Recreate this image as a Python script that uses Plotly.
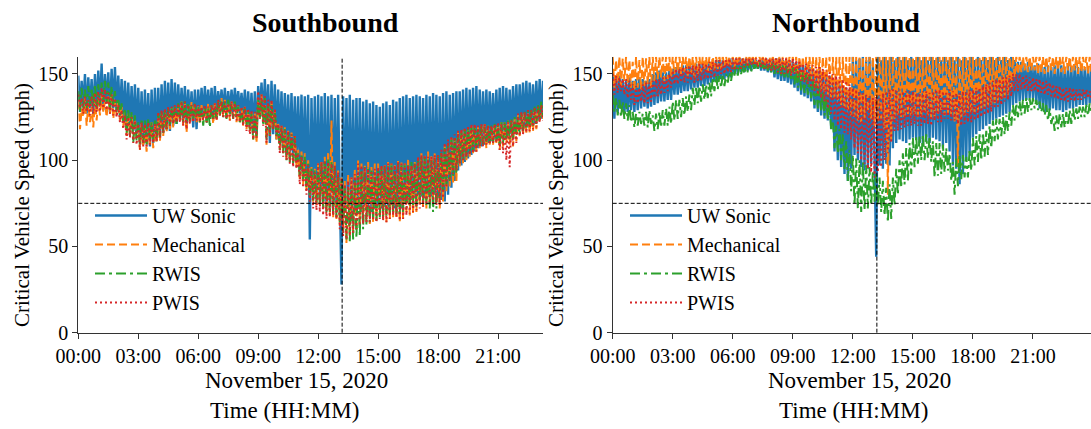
import pandas as pd
import plotly.graph_objects as go

# ---------------------------------------------------------------------------
# Critical vehicle speed (mph), 5-minute samples starting 2020-11-15 00:00.
# Each row of values is one hour (twelve samples).
# ---------------------------------------------------------------------------
DAY = "2020-11-15"
SERIES_NAMES = ["UW Sonic", "Mechanical", "RWIS", "PWIS"]
THRESHOLD_MPH = 75
EVENT_TIME = "2020-11-15 13:12"

south_uw_sonic = [
    149, 128, 146, 131, 150, 127, 148, 130, 147, 126, 150, 129,
    152, 131, 156, 129, 150, 133, 151, 128, 153, 130, 154, 129,
    149, 126, 147, 122, 146, 120, 145, 118, 143, 117, 144, 115,
    142, 112, 140, 109, 141, 111, 139, 108, 141, 110, 142, 111,
    142, 113, 144, 116, 146, 118, 145, 117, 147, 120, 145, 121,
    144, 123, 142, 124, 143, 121, 141, 122, 140, 119, 141, 118,
    141, 124, 142, 125, 143, 126, 141, 125, 142, 124, 143, 126,
    140, 129, 141, 128, 142, 126, 140, 127, 141, 128, 142, 129,
    140, 127, 139, 125, 141, 122, 140, 120, 139, 116, 140, 113,
    143, 127, 145, 124, 147, 122, 144, 110, 146, 115, 144, 112,
    141, 111, 140, 108, 139, 105, 138, 103, 139, 101, 137, 99,
    137, 94, 138, 90, 137, 85, 138, 54, 136, 82, 137, 78,
    138, 78, 137, 76, 139, 74, 137, 73, 138, 72, 136, 71,
    138, 70, 28, 137, 71, 136, 72, 138, 70, 135, 69, 136,
    72, 136, 70, 134, 73, 135, 71, 133, 70, 134, 72, 132,
    74, 131, 72, 133, 73, 134, 71, 132, 74, 135, 72, 134,
    73, 136, 72, 137, 75, 138, 76, 136, 77, 137, 78, 138,
    80, 137, 79, 136, 78, 138, 80, 137, 79, 139, 80, 138,
    78, 137, 77, 139, 76, 140, 80, 138, 84, 139, 88, 140,
    94, 140, 97, 141, 99, 142, 101, 141, 103, 142, 105, 143,
    107, 141, 108, 140, 109, 141, 110, 140, 111, 139, 112, 141,
    112, 142, 113, 143, 112, 142, 114, 141, 115, 143, 116, 144,
    117, 144, 118, 145, 119, 146, 119, 145, 120, 144, 121, 146,
    123, 147, 124, 146,
]
south_mechanical = [
    134, 118, 130, 125, 136, 120, 133, 122, 131, 119, 135, 123,
    136, 126, 138, 128, 134, 125, 137, 127, 139, 124, 134, 126,
    134, 123, 131, 120, 128, 114, 127, 116, 126, 112, 124, 113,
    120, 106, 122, 108, 119, 105, 121, 109, 122, 107, 120, 110,
    125, 111, 127, 114, 128, 116, 129, 118, 130, 119, 131, 121,
    132, 122, 134, 120, 133, 116, 132, 121, 134, 123, 132, 122,
    131, 121, 132, 123, 131, 122, 133, 124, 132, 121, 133, 123,
    134, 126, 136, 125, 135, 124, 133, 123, 134, 125, 133, 122,
    131, 121, 130, 120, 131, 118, 129, 117, 128, 112, 127, 110,
    135, 124, 138, 122, 136, 109, 133, 114, 134, 118, 128, 112,
    122, 106, 120, 104, 119, 101, 117, 100, 116, 98, 114, 96,
    106, 88, 105, 86, 104, 82, 100, 80, 96, 76, 95, 74,
    98, 74, 100, 72, 102, 70, 105, 68, 123, 67, 99, 66,
    94, 62, 90, 58, 88, 52, 92, 56, 90, 58, 95, 60,
    100, 62, 98, 64, 97, 66, 99, 63, 96, 64, 98, 65,
    98, 68, 96, 65, 97, 64, 99, 66, 98, 67, 97, 66,
    100, 64, 99, 66, 98, 70, 101, 68, 97, 69, 99, 70,
    102, 74, 104, 73, 103, 72, 105, 74, 103, 76, 104, 75,
    102, 72, 104, 76, 108, 82, 110, 84, 113, 86, 112, 88,
    116, 96, 117, 98, 118, 100, 119, 102, 120, 104, 119, 105,
    119, 107, 120, 108, 121, 107, 120, 109, 119, 109, 121, 110,
    121, 106, 122, 108, 122, 110, 123, 109, 123, 108, 124, 111,
    126, 114, 127, 115, 128, 116, 127, 116, 128, 117, 129, 118,
    130, 123, 132, 124,
]
south_rwis = [
    140, 128, 142, 130, 141, 129, 143, 132, 142, 131, 144, 130,
    144, 132, 145, 134, 146, 133, 145, 130, 143, 131, 140, 128,
    136, 126, 133, 122, 130, 116, 129, 114, 128, 110, 126, 111,
    122, 108, 124, 110, 123, 109, 124, 111, 122, 112, 123, 113,
    127, 114, 128, 116, 129, 118, 130, 120, 130, 122, 131, 121,
    133, 124, 134, 122, 134, 121, 133, 123, 132, 124, 133, 125,
    131, 122, 130, 120, 131, 121, 130, 119, 132, 124, 131, 123,
    134, 126, 135, 125, 134, 124, 135, 126, 133, 124, 134, 125,
    131, 122, 130, 121, 130, 120, 128, 117, 127, 112, 126, 113,
    135, 124, 136, 120, 136, 112, 133, 115, 133, 118, 128, 114,
    120, 106, 119, 104, 118, 100, 116, 99, 115, 98, 113, 96,
    104, 90, 103, 88, 102, 84, 98, 80, 95, 76, 94, 75,
    96, 74, 98, 72, 100, 70, 101, 69, 99, 68, 97, 67,
    92, 64, 88, 58, 86, 54, 84, 53, 85, 54, 88, 55,
    92, 56, 94, 60, 96, 62, 95, 64, 94, 66, 93, 65,
    95, 66, 96, 67, 96, 68, 97, 69, 97, 70, 96, 69,
    98, 68, 97, 70, 97, 72, 98, 73, 99, 74, 98, 73,
    101, 76, 102, 75, 102, 74, 101, 72, 100, 70, 101, 72,
    103, 78, 105, 82, 108, 86, 110, 88, 112, 90, 113, 92,
    115, 98, 116, 100, 118, 102, 119, 104, 119, 106, 120, 107,
    119, 108, 120, 109, 119, 110, 120, 110, 120, 110, 121, 111,
    121, 108, 122, 110, 122, 112, 123, 112, 124, 112, 125, 114,
    126, 116, 127, 117, 128, 118, 129, 119, 130, 120, 131, 121,
    132, 124, 134, 125,
]
south_pwis = [
    138, 130, 136, 127, 137, 128, 135, 126, 137, 127, 139, 128,
    140, 128, 142, 130, 141, 129, 139, 127, 138, 126, 136, 125,
    132, 122, 129, 118, 126, 112, 125, 113, 125, 110, 123, 109,
    121, 106, 122, 108, 121, 107, 122, 109, 120, 110, 121, 111,
    128, 113, 129, 116, 130, 118, 131, 120, 131, 121, 132, 122,
    133, 122, 134, 120, 134, 118, 132, 121, 132, 122, 133, 123,
    132, 122, 131, 123, 132, 122, 131, 124, 132, 124, 133, 123,
    135, 126, 134, 125, 134, 124, 133, 123, 134, 124, 133, 123,
    132, 122, 131, 120, 131, 117, 130, 115, 129, 112, 128, 113,
    140, 124, 138, 120, 137, 110, 135, 114, 135, 118, 130, 114,
    121, 104, 120, 102, 118, 100, 117, 98, 115, 96, 114, 95,
    104, 86, 102, 84, 100, 80, 97, 76, 94, 72, 93, 71,
    98, 70, 99, 68, 100, 66, 99, 67, 98, 68, 97, 66,
    93, 60, 90, 56, 86, 54, 88, 56, 90, 58, 92, 60,
    98, 62, 97, 63, 96, 64, 95, 64, 94, 65, 95, 64,
    96, 66, 97, 65, 97, 64, 98, 66, 98, 68, 97, 67,
    99, 65, 98, 66, 98, 68, 97, 69, 97, 70, 98, 71,
    102, 72, 103, 73, 103, 74, 102, 75, 102, 75, 103, 74,
    103, 74, 106, 78, 110, 84, 112, 88, 114, 92, 115, 94,
    117, 98, 118, 100, 119, 102, 120, 103, 121, 104, 121, 105,
    120, 108, 121, 108, 121, 109, 120, 109, 120, 110, 121, 110,
    122, 106, 121, 104, 121, 100, 122, 96, 123, 108, 123, 110,
    127, 114, 128, 115, 128, 116, 129, 117, 129, 118, 130, 119,
    131, 122, 132, 123,
]

north_uw_sonic = [
    150, 124, 148, 128, 149, 130, 147, 127, 146, 128, 148, 129,
    146, 128, 147, 129, 148, 130, 147, 131, 146, 130, 147, 131,
    150, 132, 151, 133, 152, 134, 151, 134, 151, 135, 152, 135,
    153, 138, 154, 138, 154, 139, 155, 140, 155, 140, 156, 141,
    155, 142, 156, 142, 156, 143, 157, 143, 157, 144, 157, 145,
    157, 146, 158, 146, 158, 147, 158, 147, 158, 148, 159, 148,
    159, 150, 159, 150, 159, 151, 159, 151, 159, 152, 159, 152,
    159, 153, 158, 153, 158, 152, 159, 152, 159, 151, 158, 151,
    159, 148, 159, 147, 159, 146, 158, 146, 158, 145, 158, 144,
    157, 142, 157, 140, 156, 138, 156, 137, 155, 136, 154, 134,
    153, 130, 152, 128, 152, 126, 151, 124, 150, 123, 149, 118,
    146, 105, 145, 100, 144, 96, 143, 92, 142, 88, 141, 95,
    160, 103, 158, 100, 159, 96, 160, 94, 158, 95, 160, 98,
    158, 100, 44, 160, 97, 158, 95, 160, 98, 158, 97, 160,
    107, 158, 110, 160, 112, 158, 111, 160, 110, 158, 112, 160,
    113, 158, 112, 160, 110, 158, 109, 160, 111, 158, 110, 160,
    113, 158, 112, 160, 111, 158, 108, 160, 110, 158, 105, 160,
    97, 158, 95, 160, 86, 158, 92, 160, 100, 158, 104, 160,
    113, 158, 115, 160, 117, 158, 118, 160, 120, 158, 121, 160,
    123, 158, 124, 160, 125, 158, 126, 160, 127, 158, 128, 160,
    132, 158, 133, 157, 134, 157, 135, 156, 135, 157, 136, 156,
    136, 155, 133, 156, 130, 155, 129, 154, 128, 155, 129, 154,
    130, 155, 129, 156, 129, 155, 128, 154, 129, 155, 130, 154,
    130, 155, 131, 154, 132, 155, 132, 153, 132, 154, 133, 153,
]
north_mechanical = [
    160, 142, 158, 145, 160, 143, 159, 146, 160, 144, 158, 142,
    157, 140, 160, 142, 158, 141, 160, 143, 159, 144, 160, 142,
    160, 146, 160, 147, 160, 148, 160, 146, 160, 147, 160, 148,
    160, 150, 160, 151, 160, 150, 160, 151, 160, 149, 160, 150,
    160, 148, 160, 150, 160, 151, 160, 152, 160, 151, 160, 152,
    160, 152, 160, 153, 160, 153, 160, 154, 160, 154, 160, 155,
    160, 154, 160, 155, 160, 155, 160, 156, 160, 156, 160, 156,
    160, 156, 160, 155, 160, 156, 160, 155, 160, 156, 160, 155,
    160, 155, 160, 154, 160, 153, 160, 152, 160, 151, 160, 150,
    160, 150, 160, 148, 160, 146, 160, 147, 160, 148, 160, 146,
    160, 143, 160, 142, 160, 140, 160, 139, 160, 138, 160, 136,
    160, 136, 160, 134, 160, 132, 160, 130, 160, 128, 160, 126,
    160, 125, 160, 123, 160, 122, 160, 124, 160, 128, 160, 124,
    160, 120, 160, 122, 160, 124, 160, 118, 160, 80, 160, 112,
    160, 124, 160, 126, 160, 125, 160, 124, 160, 126, 160, 125,
    160, 126, 160, 124, 160, 125, 160, 127, 160, 126, 160, 124,
    160, 125, 160, 127, 160, 128, 160, 126, 160, 127, 160, 126,
    160, 122, 160, 96, 160, 124, 160, 126, 160, 128, 160, 127,
    160, 128, 160, 129, 160, 130, 160, 131, 160, 131, 160, 132,
    160, 133, 160, 134, 160, 135, 160, 136, 160, 138, 160, 142,
    160, 148, 160, 150, 160, 151, 160, 152, 160, 151, 160, 152,
    160, 152, 160, 150, 160, 151, 160, 150, 160, 151, 160, 152,
    160, 150, 160, 152, 160, 151, 160, 150, 160, 152, 160, 151,
    160, 152, 160, 150, 160, 151, 160, 152, 160, 150, 160, 151,
]
north_rwis = [
    138, 128, 136, 126, 135, 125, 134, 124, 133, 123, 132, 122,
    128, 119, 127, 120, 128, 121, 127, 120, 128, 119, 129, 121,
    126, 117, 127, 118, 128, 119, 129, 120, 130, 120, 131, 121,
    134, 123, 135, 124, 135, 125, 136, 126, 137, 128, 138, 129,
    142, 132, 143, 133, 143, 134, 144, 135, 144, 136, 145, 137,
    148, 140, 149, 141, 149, 142, 150, 143, 150, 145, 151, 146,
    154, 149, 155, 149, 155, 150, 155, 150, 156, 151, 156, 151,
    157, 152, 157, 153, 157, 153, 156, 152, 156, 152, 156, 151,
    157, 150, 156, 150, 156, 149, 155, 148, 155, 148, 154, 146,
    154, 144, 153, 142, 152, 140, 151, 139, 150, 138, 149, 136,
    146, 132, 144, 130, 142, 128, 140, 126, 136, 123, 132, 118,
    123, 107, 120, 104, 118, 100, 115, 95, 111, 88, 106, 82,
    103, 74, 101, 72, 100, 70, 99, 71, 97, 72, 96, 74,
    94, 76, 92, 74, 90, 70, 88, 68, 84, 64, 86, 66,
    90, 74, 95, 80, 100, 84, 104, 86, 107, 88, 110, 92,
    113, 96, 114, 98, 114, 100, 115, 100, 115, 101, 114, 99,
    111, 90, 110, 91, 110, 92, 109, 93, 107, 94, 104, 88,
    99, 80, 101, 85, 103, 89, 103, 90, 102, 90, 106, 94,
    113, 97, 114, 99, 115, 100, 116, 102, 117, 103, 120, 107,
    123, 111, 124, 112, 124, 114, 125, 115, 126, 117, 128, 120,
    132, 123, 133, 125, 134, 126, 135, 127, 136, 128, 136, 129,
    136, 130, 135, 129, 134, 128, 133, 126, 132, 123, 130, 121,
    126, 117, 126, 118, 127, 119, 127, 119, 128, 120, 129, 121,
    130, 123, 130, 124, 131, 125, 131, 125, 132, 126, 133, 127,
]
north_pwis = [
    150, 138, 149, 139, 148, 140, 147, 138, 147, 136, 146, 135,
    144, 132, 143, 133, 142, 134, 144, 133, 145, 133, 145, 134,
    146, 136, 147, 137, 147, 138, 148, 139, 148, 140, 150, 142,
    152, 144, 153, 144, 153, 145, 154, 145, 154, 145, 155, 146,
    155, 145, 155, 146, 156, 146, 156, 147, 156, 147, 157, 148,
    157, 148, 158, 149, 158, 150, 158, 150, 158, 151, 159, 151,
    159, 152, 159, 153, 159, 153, 159, 154, 159, 154, 159, 155,
    159, 155, 159, 154, 159, 154, 159, 153, 159, 153, 159, 152,
    159, 152, 159, 151, 159, 150, 159, 150, 159, 150, 158, 149,
    159, 150, 158, 148, 157, 146, 156, 145, 156, 144, 155, 142,
    155, 140, 154, 138, 154, 136, 153, 134, 152, 130, 151, 127,
    150, 123, 149, 120, 148, 118, 147, 116, 146, 115, 144, 112,
    142, 107, 141, 104, 140, 100, 139, 98, 138, 95, 137, 93,
    136, 90, 137, 93, 138, 96, 139, 100, 140, 104, 141, 110,
    142, 117, 141, 117, 141, 118, 140, 119, 140, 120, 140, 120,
    140, 121, 139, 120, 139, 120, 140, 121, 140, 121, 139, 120,
    140, 123, 141, 122, 141, 122, 140, 124, 140, 124, 141, 123,
    140, 123, 139, 121, 139, 120, 140, 121, 140, 122, 141, 122,
    141, 123, 142, 124, 142, 125, 143, 126, 144, 127, 145, 128,
    146, 130, 147, 131, 147, 132, 148, 134, 148, 135, 149, 137,
    150, 140, 150, 140, 150, 141, 149, 141, 149, 140, 148, 140,
    148, 140, 147, 139, 147, 139, 146, 138, 146, 138, 145, 137,
    144, 136, 143, 135, 143, 135, 142, 134, 142, 134, 142, 135,
    142, 134, 141, 135, 141, 135, 141, 136, 141, 136, 140, 136,
]

x_tick_hours = [0, 3, 6, 9, 12, 15, 18, 21]
y_tick_values = [0, 50, 100, 150]

# ---------------------------------------------------------------------------
FONT = "Liberation Serif"
COLORS = ["#1f77b4", "#ff7f0e", "#2ca02c", "#d62728"]
DASHES = ["solid", "8px,4px", "10px,4px,3px,4px", "2px,3px"]
WIDTHS = [2.4, 2.0, 2.0, 2.0]
W, H = 1091, 429


def times(values):
    return pd.date_range(f"{DAY} 00:00", periods=len(values), freq="5min")


fig = go.Figure()

panels = [
    ("x", "y", "legend", [south_uw_sonic, south_mechanical, south_rwis, south_pwis]),
    ("x2", "y2", "legend2", [north_uw_sonic, north_mechanical, north_rwis, north_pwis]),
]
for xa, ya, leg, series in panels:
    for name, vals, color, dash, lw in zip(SERIES_NAMES, series, COLORS, DASHES, WIDTHS):
        fig.add_trace(go.Scatter(
            x=times(vals), y=vals, name=name, mode="lines",
            line=dict(color=color, width=lw, dash=dash),
            xaxis=xa, yaxis=ya, legend=leg,
        ))

tickvals = [pd.Timestamp(DAY) + pd.Timedelta(hours=h) for h in x_tick_hours]
ticktext = [f"{h:02d}:00" for h in x_tick_hours]

common_x = dict(
    type="date", tickvals=tickvals, ticktext=ticktext,
    showline=True, linecolor="#333", linewidth=1.3, mirror=False,
    ticks="outside", ticklen=5, tickcolor="#333", showgrid=False, zeroline=False,
    tickfont=dict(family=FONT, size=20, color="black"), automargin=False,
)
common_y = dict(
    range=[0, 160], tickvals=y_tick_values,
    showline=True, linecolor="#333", linewidth=1.3, mirror=False,
    ticks="outside", ticklen=5, tickcolor="#333", showgrid=False, zeroline=False,
    tickfont=dict(family=FONT, size=20, color="black"), automargin=False,
)

legend_style = dict(
    xanchor="left", yanchor="top", bgcolor="rgba(0,0,0,0)",
    font=dict(family=FONT, size=20, color="black"), itemwidth=52, tracegroupgap=0,
)

y_dom = [1 - 332.7 / H, 1 - 56.7 / H]
fig.update_layout(
    width=W, height=H,
    margin=dict(l=0, r=0, t=0, b=0),
    paper_bgcolor="white", plot_bgcolor="white",
    xaxis=dict(common_x, domain=[78.3 / W, 543 / W], anchor="y",
               range=[pd.Timestamp(f"{DAY} 00:00"), pd.Timestamp(f"{DAY} 23:15")]),
    yaxis=dict(common_y, domain=y_dom, anchor="x"),
    xaxis2=dict(common_x, domain=[612.7 / W, 1.0], anchor="y2",
                range=[pd.Timestamp(f"{DAY} 00:00"), pd.Timestamp(f"{DAY} 23:54")]),
    yaxis2=dict(common_y, domain=y_dom, anchor="x2"),
    legend=dict(legend_style, x=90 / W, y=1 - 196 / H),
    legend2=dict(legend_style, x=625 / W, y=1 - 196 / H),
    showlegend=True,
)

# Threshold speed and event time reference lines
for xa, ya in [("x", "y"), ("x2", "y2")]:
    fig.add_shape(type="line", xref=f"{xa} domain", yref=ya, x0=0, x1=1,
                  y0=THRESHOLD_MPH, y1=THRESHOLD_MPH,
                  line=dict(color="black", width=1, dash="4px,2px"))
    fig.add_shape(type="line", xref=xa, yref=f"{ya} domain", x0=EVENT_TIME, x1=EVENT_TIME,
                  y0=0, y1=1, line=dict(color="black", width=1, dash="4px,2px"))

# Panel titles and axis labels
texts = [
    ("<b>Southbound</b>", 325, 23, 28, 0),
    ("<b>Northbound</b>", 846, 23, 28, 0),
    ("November 15, 2020", 296, 380, 23, 0),
    ("Time (HH:MM)", 284, 410, 23, 0),
    ("November 15, 2020", 860, 380, 23, 0),
    ("Time (HH:MM)", 853, 410, 23, 0),
    ("Critical Vehicle Speed (mph)", 22, 205, 21, -90),
    ("Critical Vehicle Speed (mph)", 556, 205, 21, -90),
]
for text, px, py, size, angle in texts:
    fig.add_annotation(text=text, xref="paper", yref="paper", x=px / W, y=1 - py / H,
                       xanchor="center", yanchor="middle", showarrow=False,
                       textangle=angle, font=dict(family=FONT, size=size, color="black"))

fig.write_html("out.html")
